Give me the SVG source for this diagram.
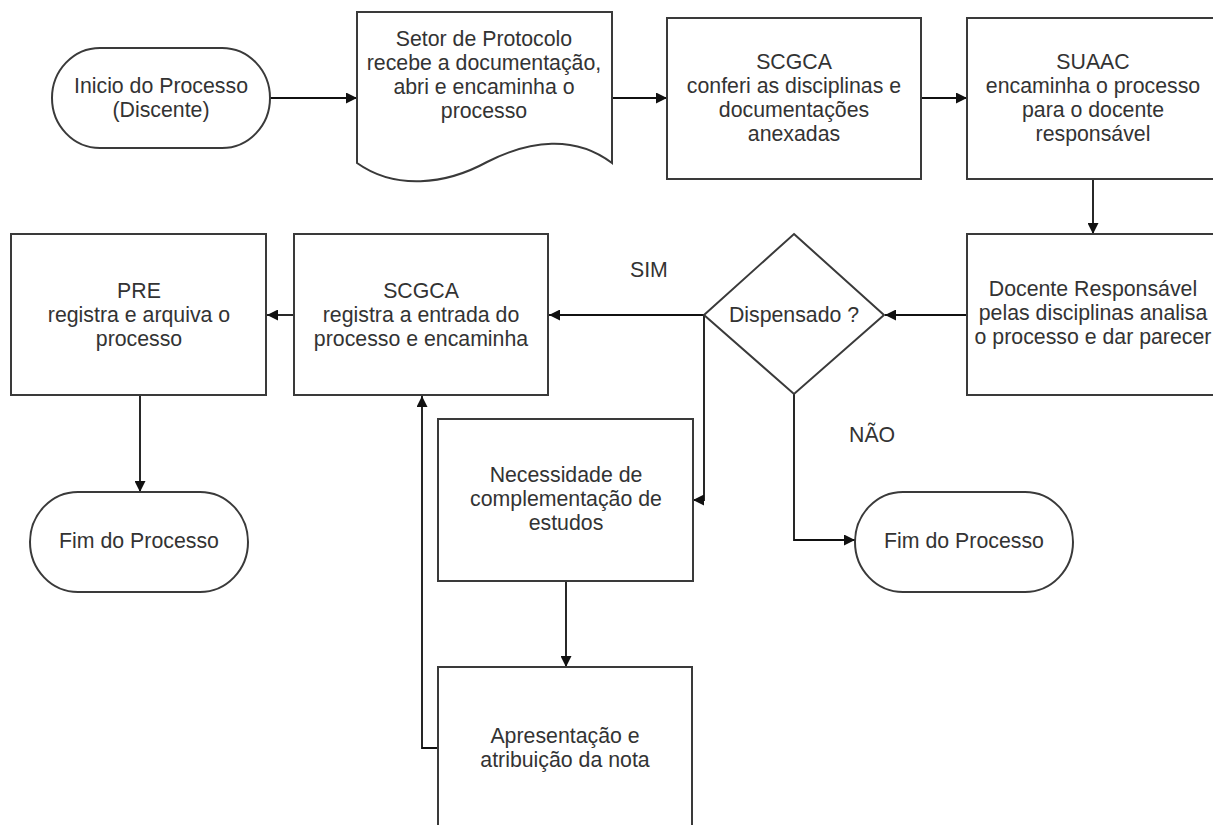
<svg xmlns="http://www.w3.org/2000/svg" width="1213" height="825" viewBox="0 0 1213 825">
  <style>
    .shape { fill: #ffffff; stroke: #3a3a3a; stroke-width: 2; }
    .label { font-family: "Liberation Sans", Arial, sans-serif; font-size: 21.3px; fill: #333333; text-anchor: middle; }
    .note { font-family: "Liberation Sans", Arial, sans-serif; font-size: 21.3px; fill: #333333; }
    .link { fill: none; stroke: #111111; stroke-width: 1.8; marker-end: url(#arrow); }
  </style>
  <defs>
    <marker id="arrow" markerUnits="userSpaceOnUse" markerWidth="12" markerHeight="11" refX="11" refY="5.5" orient="auto">
      <path d="M0,0 L11,5.5 L0,11 z" fill="#111111"/>
    </marker>
  </defs>
  <rect width="1213" height="825" fill="#ffffff"/>

  <!-- connectors -->
  <g id="connectors">
    <path class="link" d="M270,98 H357"/>
    <path class="link" d="M612,98 H667"/>
    <path class="link" d="M921,98 H967"/>
    <path class="link" d="M1093,179 V234"/>
    <path class="link" d="M967,315 H885"/>
    <path class="link" d="M704,315 H549"/>
    <path class="link" d="M704,315 V500 H693"/>
    <path class="link" d="M794,394 V540 H855"/>
    <path class="link" d="M294,315 H267"/>
    <path class="link" d="M140,395 V492"/>
    <path class="link" d="M566,581 V667"/>
    <path class="link" d="M438,748 H422 V396"/>
  </g>

  <!-- start terminator -->
  <g id="inicio">
    <rect class="shape" x="52" y="48" width="218" height="100" rx="48" ry="50"/>
    <text class="label" x="161" y="93">Inicio do Processo</text>
    <text class="label" x="161" y="117">(Discente)</text>
  </g>

  <!-- protocol document -->
  <g id="protocolo">
    <path class="shape" d="M357,12 H612 V163 C575,135 530,140 487,162 C445,185 395,190 357,163 Z"/>
    <text class="label" x="484" y="46">Setor de Protocolo</text>
    <text class="label" x="484" y="70">recebe a documentação,</text>
    <text class="label" x="484" y="94">abri e encaminha o</text>
    <text class="label" x="484" y="118">processo</text>
  </g>

  <g id="scgca-confere">
    <rect class="shape" x="667" y="18" width="254" height="161"/>
    <text class="label" x="794" y="69">SCGCA</text>
    <text class="label" x="794" y="93">conferi as disciplinas e</text>
    <text class="label" x="794" y="117">documentações</text>
    <text class="label" x="794" y="141">anexadas</text>
  </g>

  <g id="suaac">
    <rect class="shape" x="967" y="18" width="254" height="161"/>
    <text class="label" x="1093" y="69">SUAAC</text>
    <text class="label" x="1093" y="93">encaminha o processo</text>
    <text class="label" x="1093" y="117">para o docente</text>
    <text class="label" x="1093" y="141">responsável</text>
  </g>

  <g id="docente">
    <rect class="shape" x="967" y="234" width="254" height="161"/>
    <text class="label" x="1093" y="296">Docente Responsável</text>
    <text class="label" x="1093" y="320">pelas disciplinas analisa</text>
    <text class="label" x="1093" y="344">o processo e dar parecer</text>
  </g>

  <g id="decisao">
    <path class="shape" d="M794,234 L884,315 L794,394 L704,315 Z"/>
    <text class="label" x="794" y="322">Dispensado ?</text>
  </g>

  <g id="scgca-registra">
    <rect class="shape" x="294" y="234" width="254" height="161"/>
    <text class="label" x="421" y="298">SCGCA</text>
    <text class="label" x="421" y="322">registra a entrada do</text>
    <text class="label" x="421" y="346">processo e encaminha</text>
  </g>

  <g id="pre">
    <rect class="shape" x="11" y="234" width="255" height="161"/>
    <text class="label" x="139" y="298">PRE</text>
    <text class="label" x="139" y="322">registra e arquiva o</text>
    <text class="label" x="139" y="346">processo</text>
  </g>

  <g id="fim-esquerda">
    <rect class="shape" x="30" y="492" width="218" height="100" rx="48" ry="50"/>
    <text class="label" x="139" y="548">Fim do Processo</text>
  </g>

  <g id="necessidade">
    <rect class="shape" x="438" y="419" width="255" height="162"/>
    <text class="label" x="566" y="482">Necessidade de</text>
    <text class="label" x="566" y="506">complementação de</text>
    <text class="label" x="566" y="530">estudos</text>
  </g>

  <g id="apresentacao">
    <rect class="shape" x="438" y="667" width="254" height="165"/>
    <text class="label" x="565" y="743">Apresentação e</text>
    <text class="label" x="565" y="767">atribuição da nota</text>
  </g>

  <g id="fim-direita">
    <rect class="shape" x="855" y="492" width="218" height="100" rx="48" ry="50"/>
    <text class="label" x="964" y="548">Fim do Processo</text>
  </g>

  <!-- branch labels -->
  <text class="note" x="630" y="277">SIM</text>
  <text class="note" x="849" y="442">NÃO</text>
</svg>
